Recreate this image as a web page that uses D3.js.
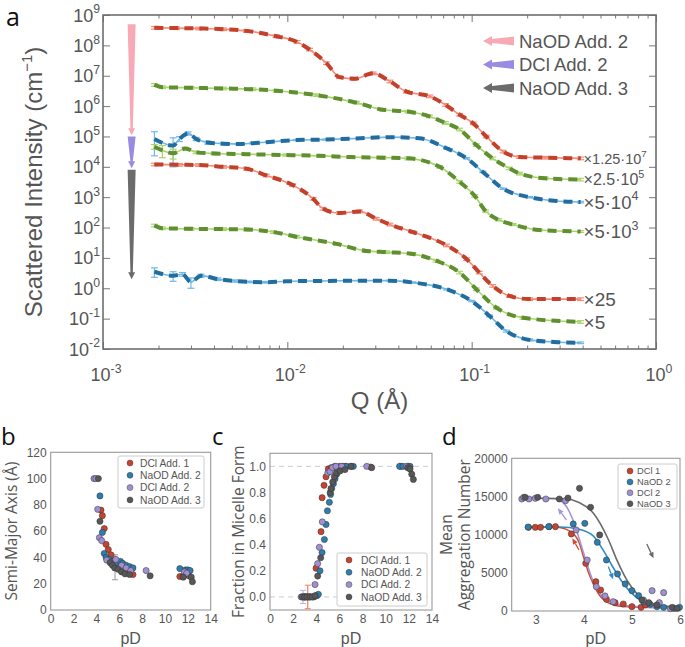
<!DOCTYPE html>
<html><head><meta charset="utf-8">
<script src="https://cdn.jsdelivr.net/npm/d3@7"></script>
<style>body{margin:0;background:#fff} svg{display:block}</style>
</head><body><svg id="c" width="685" height="647"></svg>
<script>
// ---------------- Panel a data (Q in 1/Å, intensity in cm^-1, already scaled) ----------------
const qR1 = [0.0019,0.0025,0.0033,0.0045,0.006,0.0087,0.0113,0.0132,0.0163,0.0192,0.0232,0.0292,0.036,0.0443,0.0593,0.072,0.086,0.102,0.12,0.148,0.182,0.25,0.39];
const iR1 = [3.8e8,3.7e8,3.6e8,3.4e8,3.0e8,2.0e8,1.3e8,7.3e7,2.6e7,9.0e6,8.0e6,1.2e7,6.5e6,3.0e6,2.1e6,1.1e6,5.2e5,2.7e5,1.0e5,3.2e4,2.1e4,2.0e4,1.9e4];
const qG2 = [0.0019,0.0021,0.003,0.0045,0.0065,0.0087,0.0144,0.0237,0.033,0.045,0.059,0.072,0.086,0.106,0.13,0.16,0.182,0.25,0.39];
const iG2 = [5.0e6,4.2e6,4.0e6,3.8e6,3.6e6,3.2e6,2.3e6,1.3e6,7.6e5,6.6e5,4.6e5,2.8e5,1.7e5,5.2e4,1.9e4,8.9e3,6.0e3,4.2e3,3.8e3];
const qB3 = [0.0019,0.0024,0.0026,0.0029,0.0032,0.0037,0.0045,0.0055,0.0065,0.008,0.0112,0.016,0.025,0.036,0.052,0.073,0.094,0.115,0.148,0.206,0.28,0.39];
const iB3 = [8.3e4,5.0e4,8.3e4,1.26e5,8.3e4,6.3e4,5.8e4,5.6e4,6.0e4,6.6e4,7.6e4,7.9e4,8.7e4,9.5e4,8.7e4,4.1e4,1.9e4,6.8e3,1.9e3,1.0e3,7.6e2,6.9e2];
const eB3 = [6e4,4e4,1.5e4,1.5e4,1e4,7e3,5e3,4e3,3e3,3e3,3e3,3e3,3e3,3e3,3e3,2e3,1e3,4e2,1e2,5e1,4e1,4e1];
const qG4 = [0.0019,0.0021,0.0024,0.0028,0.0032,0.004,0.006,0.0098,0.015,0.022,0.033,0.045,0.067,0.086,0.104,0.119,0.14,0.168,0.233,0.39];
const iG4 = [4.6e4,3.5e4,2.8e4,4.0e4,3.0e4,2.75e4,2.6e4,2.45e4,2.3e4,2.1e4,2.0e4,1.9e4,1.0e4,3.2e3,1.1e3,3.5e2,1.8e2,1.26e2,8.3e1,7.4e1];
const eG4 = [8e3,1.5e4,1e4,4e3,3e3,2.5e3,2e3,2e3,2e3,2e3,2e3,2e3,1e3,3e2,1e2,3e1,1.5e1,1e1,6,5];
const qR5 = [0.0019,0.0026,0.0033,0.0045,0.006,0.0077,0.0107,0.0138,0.0156,0.0192,0.0246,0.0304,0.036,0.048,0.073,0.094,0.11,0.13,0.16,0.206,0.39];
const iR5 = [1.2e4,1.17e4,1.15e4,1.0e4,8.7e3,5.2e3,2.5e3,8.9e2,4.2e2,3.0e2,3.4e2,1.95e2,1.26e2,7.1e1,2.6e1,9.1,3.3,1.2,0.56,0.44,0.44];
const qG6 = [0.0019,0.0021,0.003,0.0045,0.006,0.0084,0.0112,0.0185,0.0268,0.0346,0.048,0.064,0.086,0.106,0.136,0.19,0.39];
const iG6 = [117,95,91,89,87,71,50,29,17,15.5,13.5,8.1,3.3,0.93,0.23,0.107,0.078];
const qB7 = [0.0019,0.0024,0.0027,0.003,0.0034,0.0042,0.0052,0.0062,0.0075,0.0099,0.015,0.025,0.036,0.048,0.073,0.1,0.125,0.154,0.206,0.28,0.39];
const iB7 = [3.5,2.6,2.9,1.6,2.6,2.0,1.74,1.62,1.58,1.7,1.74,1.78,1.78,1.55,0.93,0.38,0.123,0.039,0.020,0.017,0.016];
const eB7 = [1.2,0.9,0.4,0.6,0.3,0.2,0.15,0.1,0.1,0.08,0.08,0.08,0.08,0.07,0.05,0.02,0.008,0.003,0.0015,0.0012,0.001];
const scaleBase = ["×1.25·10","×2.5·10","×5·10","×5·10","×25","×5",""];
const scaleExp  = ["7","5","4","3","","",""];
const legendA = ["NaOD Add. 2","DCl Add. 2","NaOD Add. 3"];
const arrowA = [[5e8,1.1e5],[1.0e5,9e3],[8e3,2.0]];   // vertical arrow segments (intensity range)

// ---------------- Panel b data: semi-major axis vs pD ----------------
const bRed    = [[4.4,76],[4.52,71.8],[4.69,62],[4.84,50],[5.04,46],[5.28,42],[5.6,38],[5.9,36],[6.3,34],[6.7,30],[7.2,27],[11.3,25.5],[11.6,26],[11.9,27],[12.1,26]];
const bBlue   = [[4.31,86.8],[4.52,59],[4.68,43],[4.85,40],[5.1,38.5],[5.4,37],[5.7,36],[6.1,37],[6.3,35.5],[6.6,34],[6.9,33],[7.2,32],[11.3,31.5],[11.8,30.5],[12.0,30.5],[12.2,30]];
const bPurple = [[3.79,100],[3.95,100],[4.11,76.6],[4.26,55],[4.46,52.8],[4.9,38],[5.3,36],[5.7,38.5],[6.2,34],[6.6,32],[7.0,30],[8.35,30],[11.7,29],[11.9,28]];
const bGray   = [[4.17,100],[4.31,67.5],[5.2,36],[5.4,34],[5.6,32],[5.9,31],[6.2,29],[6.5,27.5],[6.9,27],[8.7,26],[11.6,25],[12.3,25],[12.4,21.5]];
const bErr    = [[5.63,23,42]];

// ---------------- Panel c data: fraction in micelle form vs pD ----------------
const cRed    = [[2.95,0],[3.1,0],[3.3,0],[3.5,0],[3.7,0],[3.98,0.22],[4.41,0.50],[4.5,0.76],[4.67,0.855],[4.84,0.92],[5.04,0.98],[5.3,0.99],[5.6,1.0],[6.0,1.0],[6.5,1.0],[7.0,1.0],[8.7,0.995],[11.3,1.0],[11.9,1.0]];
const cBlue   = [[3.0,0],[3.4,0],[3.8,0],[4.05,0.01],[4.18,0.02],[4.32,0.2],[4.5,0.34],[4.7,0.44],[4.84,0.555],[4.96,0.66],[5.13,0.725],[5.24,0.785],[5.33,0.83],[5.48,0.867],[5.62,0.905],[5.76,0.94],[6.05,0.98],[6.3,1.0],[6.63,1.0],[7.2,1.0],[11.2,1.0],[11.5,1.0],[11.96,1.0],[12.1,1.0]];
const cPurple = [[2.7,0],[2.85,0],[3.0,0],[3.2,0],[3.89,0.095],[4.12,0.255],[4.27,0.38],[4.52,0.575],[5.0,0.95],[5.19,0.96],[5.4,0.99],[5.7,1.0],[6.2,1.0],[8.36,1.0],[11.8,1.0],[12.0,0.99]];
const cGray   = [[2.8,0],[3.0,0],[3.2,0],[3.45,0],[3.65,0],[3.9,0.01],[4.12,0.16],[4.38,0.3],[5.2,0.8],[5.27,0.83],[5.42,0.88],[5.56,0.92],[5.75,0.95],[6.05,0.965],[6.48,0.975],[7.0,1.0],[8.79,0.99],[11.9,0.99],[12.1,0.98],[12.25,0.94],[12.39,0.9]];
const cErr    = [[3.26,-0.09,0.09,"red"],[2.85,-0.05,0.05,"purple"]];

// ---------------- Panel d data: mean aggregation number vs pD ----------------
const dRed    = [[2.85,10960],[2.99,10960],[3.1,10960],[3.28,11050],[3.41,11050],[3.74,10090],[4.04,6240],[4.25,3840],[4.35,2750],[4.47,1530],[4.65,1090],[4.82,920],[5.0,570],[5.19,480],[5.28,790]];
const dBlue   = [[2.84,11000],[3.27,11050],[3.78,11400],[4.02,11480],[4.28,9000],[4.47,6680],[4.7,4850],[4.86,3540],[5.0,2660],[5.14,2010],[5.24,1220],[5.38,870],[5.52,570],[5.66,480],[5.87,350],[5.99,480]];
const dPurple = [[2.71,14670],[2.75,14890],[2.86,14670],[2.99,14760],[3.21,14670],[3.62,14450],[3.84,10610],[4.07,6680],[4.26,3190],[4.44,1970],[4.61,1220],[5.24,1440],[5.42,2660],[5.57,1090],[5.66,2400],[5.8,300]];
const dGray   = [[2.78,14890],[3.04,14890],[3.49,14670],[3.67,14800],[3.91,16070],[4.14,13580],[4.33,9960],[5.21,1440],[5.35,1090],[5.52,790],[5.84,480],[5.94,350]];
const fitRed    = [[2.8,11000],[3.4,11000],[3.7,10500],[3.9,9000],[4.0,7000],[4.1,5000],[4.2,3500],[4.3,2300],[4.5,1100],[4.8,600],[5.5,450],[6,400]];
const fitPurple = [[2.7,14800],[3.4,14700],[3.6,14000],[3.8,11500],[3.95,8500],[4.05,6500],[4.2,3800],[4.35,2200],[4.6,1100],[5,600],[6,400]];
const fitBlue   = [[2.8,11000],[3.5,11000],[3.9,10700],[4.2,9800],[4.4,8000],[4.6,5800],[4.8,3800],[5.0,2300],[5.2,1300],[5.5,700],[6,450]];
const fitGray   = [[2.7,14800],[3.6,14700],[3.9,14200],[4.2,12800],[4.5,9500],[4.7,6500],[4.9,4000],[5.1,2300],[5.3,1300],[5.6,700],[6,450]];
const dArrows = [[3.90,7990,3.76,9520,"red"],[3.64,11920,3.46,13450,"purple"],[4.51,5810,4.61,4150,"blue"],[5.31,8780,5.45,6900,"gray"]];
const legB = ["DCl  Add. 1","NaOD Add. 2","DCl  Add. 2","NaOD Add. 3"];
const legD = ["DCl 1","NaOD 2","DCl 2","NaOD 3"];

// ---------------- styles ----------------
const COL = {red:"#c8432f", blue:"#2e7dad", purple:"#a090d2", gray:"#575757"};
const FIT = {red:"#d04a30", blue:"#2f8bc4", purple:"#a596d6", gray:"#6a6a6a"};
const A_FIT = {red:"#c3402b", green:"#5f8f2f", blue:"#216d9f"};
const A_DAT = {red:"#f28c79", green:"#a8d46c", blue:"#70b7e3"};
const TXT = "#555";
const FA = "Liberation Sans, Arial, sans-serif";
const FB = "Open Sans, sans-serif";

const svg = d3.select("#c");

// ================= PANEL A =================
const A = {l:103, r:656, t:15, b:349};
const xA = d3.scaleLog().domain([1e-3, 1]).range([A.l, A.r]);
const yA = d3.scaleLog().domain([1e-2, 1e9]).range([A.b, A.t]);
const ga = svg.append("g");
const isMajor = v => Math.abs(Math.log10(v) - Math.round(Math.log10(v))) < 1e-9;
const xT = xA.ticks(), yT = yA.ticks();
function ax(g, axis, vals, size) {
  g.call(axis.tickValues(vals).tickSize(size).tickFormat(""));
  g.select(".domain").remove();
  g.selectAll("line").attr("stroke", "#777").attr("stroke-width", 1);
}
[[d3.axisBottom, `translate(0,${A.b})`, xA, xT], [d3.axisTop, `translate(0,${A.t})`, xA, xT],
 [d3.axisLeft, `translate(${A.l},0)`, yA, yT], [d3.axisRight, `translate(${A.r},0)`, yA, yT]].forEach(([fn, tr, sc, tv]) => {
  ax(ga.append("g").attr("transform", tr), fn(sc), tv.filter(v => !isMajor(v)), -3.5);
  ax(ga.append("g").attr("transform", tr), fn(sc), tv.filter(isMajor), -7);
});
ga.append("rect").attr("x", A.l).attr("y", A.t).attr("width", A.r - A.l).attr("height", A.b - A.t)
  .attr("fill", "none").attr("stroke", "#6e6e6e").attr("stroke-width", 1.6);
function sup(sel, base, exp, fs) {
  sel.append("tspan").text(base);
  if (exp !== "") sel.append("tspan").attr("dy", -fs * 0.45).attr("font-size", fs * 0.68).text(exp);
}
xT.filter(isMajor).forEach(v => {
  const t = ga.append("text").attr("x", xA(v) + 3).attr("y", A.b + 32).attr("text-anchor", "middle")
    .attr("font-family", FA).attr("font-size", 18).attr("fill", TXT);
  sup(t, "10", String(Math.round(Math.log10(v))), 18);
});
yT.filter(isMajor).forEach(v => {
  const t = ga.append("text").attr("x", A.l - 3).attr("y", yA(v) + 6.5).attr("text-anchor", "end")
    .attr("font-family", FA).attr("font-size", 18).attr("fill", TXT);
  sup(t, "10", String(Math.round(Math.log10(v))), 18);
});
{
  const t = ga.append("text").attr("transform", `translate(42,${(A.t + A.b) / 2}) rotate(-90)`)
    .attr("text-anchor", "middle").attr("font-family", FA).attr("font-size", 24).attr("fill", TXT);
  t.append("tspan").text("Scattered Intensity (cm");
  t.append("tspan").attr("dy", -10).attr("font-size", 15).text("−1");
  t.append("tspan").attr("dy", 10).text(")");
}
ga.append("text").attr("x", (A.l + A.r) / 2).attr("y", 409).attr("text-anchor", "middle")
  .attr("font-family", FA).attr("font-size", 24).attr("fill", TXT).text("Q (Å)");
ga.append("text").attr("x", 6).attr("y", 26).attr("font-family", FB).attr("font-size", 25).attr("fill", "#111").text("a");

const seriesA = [
  {q:qR1, v:iR1, e:null, c:"red"}, {q:qG2, v:iG2, e:null, c:"green"}, {q:qB3, v:iB3, e:eB3, c:"blue"},
  {q:qG4, v:iG4, e:eG4, c:"green"}, {q:qR5, v:iR5, e:null, c:"red"}, {q:qG6, v:iG6, e:null, c:"green"},
  {q:qB7, v:iB7, e:eB7, c:"blue"}
];
const labelSize = [14.5, 16, 18.5, 18.5, 19, 19, 0];
const lineA = d3.line().x(d => xA(d[0])).y(d => yA(d[1])).curve(d3.curveMonotoneX);
seriesA.forEach((s, k) => {
  const pts = s.q.map((q, i) => [q, s.v[i], s.e ? s.e[i] : s.v[i] * 0.1]);
  const g = ga.append("g");
  g.append("path").attr("d", lineA(pts)).attr("fill", "none").attr("stroke", A_DAT[s.c]).attr("stroke-width", 1.6);
  pts.forEach(p => {
    const y1 = yA(p[1] + p[2]), y2 = yA(Math.max(p[1] - p[2], 1.2e-2)), x = xA(p[0]);
    g.append("line").attr("x1", x).attr("x2", x).attr("y1", y1).attr("y2", y2).attr("stroke", A_DAT[s.c]).attr("stroke-width", 1.2);
    [y1, y2].forEach(yy => g.append("line").attr("x1", x - 3.5).attr("x2", x + 3.5).attr("y1", yy).attr("y2", yy)
      .attr("stroke", A_DAT[s.c]).attr("stroke-width", 1.2));
  });
  g.append("path").attr("d", lineA(pts)).attr("fill", "none").attr("stroke", A_FIT[s.c]).attr("stroke-width", 4)
    .attr("stroke-dasharray", "9,6");
  const last = pts[pts.length - 1];
  if (scaleBase[k]) {
    const fs = labelSize[k];
    const t = ga.append("text").attr("x", xA(last[0]) + 3).attr("y", yA(last[1]) + fs * 0.36)
      .attr("font-family", FA).attr("font-size", fs).attr("fill", TXT);
    sup(t, scaleBase[k], scaleExp[k], fs);
  }
});
// vertical arrow
const arrCols = ["#f7aab5", "#9a8be0", "#6b6b6b"];
const ax0 = xA(0.00143);
arrowA.forEach((seg, i) => {
  const yTop = yA(seg[0]), yBot = yA(seg[1]);
  const hw = 4, hl = 7;
  ga.append("path").attr("d",
    `M${ax0 - hw},${yTop} L${ax0 + hw},${yTop} L${ax0 + 1.2},${yBot - hl} L${ax0 + 3.5},${yBot - hl} L${ax0},${yBot} L${ax0 - 3.5},${yBot - hl} L${ax0 - 1.2},${yBot - hl} Z`)
    .attr("fill", arrCols[i]);
});
// legend arrows
legendA.forEach((t, i) => {
  const y = 41 + i * 23.5, x0 = 483, x1 = 514;
  ga.append("path").attr("d", `M${x0},${y} L${x0 + 9},${y - 5} L${x0 + 9},${y - 2} L${x1},${y - 4.5} L${x1},${y + 4.5} L${x0 + 9},${y + 2} L${x0 + 9},${y + 5} Z`)
    .attr("fill", arrCols[i]);
  ga.append("text").attr("x", 519).attr("y", y + 6.5).attr("font-family", FA).attr("font-size", 18.5).attr("fill", TXT).text(t);
});

// ================= PANELS b, c, d =================
function panel(cfg) {
  const g = svg.append("g");
  const x = d3.scaleLinear().domain(cfg.xd).range([cfg.l, cfg.r]);
  const y = d3.scaleLinear().domain(cfg.yd).range([cfg.b, cfg.t]);
  const gx = g.append("g").attr("transform", `translate(0,${cfg.b})`)
    .call(d3.axisBottom(x).tickValues(cfg.xt).tickSize(0).tickPadding(4).tickFormat(cfg.xf || d3.format("d")));
  const gy = g.append("g").attr("transform", `translate(${cfg.l},0)`)
    .call(d3.axisLeft(y).tickValues(cfg.yt).tickSize(0).tickPadding(4).tickFormat(cfg.yf || d3.format("d")));
  [gx, gy].forEach(s => { s.select(".domain").remove(); s.selectAll("text").attr("font-family", FA).attr("font-size", 12).attr("fill", TXT); });
  if (cfg.hl) cfg.hl.forEach(v => g.append("line").attr("x1", cfg.l).attr("x2", cfg.r).attr("y1", y(v)).attr("y2", y(v))
    .attr("stroke", "#ccc").attr("stroke-width", 1).attr("stroke-dasharray", "5,4"));
  g.append("rect").attr("x", cfg.l).attr("y", cfg.t).attr("width", cfg.r - cfg.l).attr("height", cfg.b - cfg.t)
    .attr("fill", "none").attr("stroke", "#999").attr("stroke-width", 1.1);
  g.append("text").attr("x", (cfg.l + cfg.r) / 2).attr("y", 643.5).attr("text-anchor", "middle")
    .attr("font-family", FA).attr("font-size", 16).attr("fill", TXT).text("pD");
  cfg.ylab.forEach((lab, i) => g.append("text").attr("transform", `translate(${cfg.ylx[i]},${(cfg.t + cfg.b) / 2}) rotate(-90)`)
    .attr("text-anchor", "middle").attr("font-family", FB).attr("font-size", 15.5).attr("fill", TXT).text(lab));
  g.append("text").attr("x", cfg.px).attr("y", 445).attr("font-family", FB).attr("font-size", 24).attr("fill", "#111").text(cfg.pl);
  return {g, x, y};
}
function dots(P, data, col) {
  P.g.append("g").selectAll("circle").data(data).join("circle")
    .attr("cx", d => P.x(d[0])).attr("cy", d => P.y(d[1])).attr("r", 3.1)
    .attr("fill", COL[col]).attr("stroke", "#333").attr("stroke-width", 0.5);
}
function legend(P, x0, y0, w, h, dy, labels, fs, tx) {
  P.g.append("rect").attr("x", x0).attr("y", y0).attr("width", w).attr("height", h).attr("rx", 2)
    .attr("fill", "#fff").attr("fill-opacity", 0.9).attr("stroke", "#ccc").attr("stroke-width", 1);
  ["red", "blue", "purple", "gray"].forEach((c, i) => {
    const yy = y0 + 7 + i * dy;
    P.g.append("circle").attr("cx", x0 + 12).attr("cy", yy).attr("r", 3).attr("fill", COL[c]).attr("stroke", "#333").attr("stroke-width", 0.4);
    P.g.append("text").attr("x", x0 + tx).attr("y", yy + fs * 0.36).attr("font-family", FA).attr("font-size", fs).attr("fill", TXT).text(labels[i]);
  });
}

// panel b
const PB = panel({l:50.7, r:210.7, t:452.3, b:610, xd:[0,14], yd:[0,120], xt:d3.range(0,15,2), yt:d3.range(0,121,20),
  ylab:["Semi-Major Axis (Å)"], ylx:[17], px:1, pl:"b"});
bErr.forEach(e => {
  const x = PB.x(e[0]);
  PB.g.append("line").attr("x1", x).attr("x2", x).attr("y1", PB.y(e[1])).attr("y2", PB.y(e[2])).attr("stroke", "#999").attr("stroke-width", 1);
  [e[1], e[2]].forEach(v => PB.g.append("line").attr("x1", x - 3).attr("x2", x + 3).attr("y1", PB.y(v)).attr("y2", PB.y(v)).attr("stroke", "#999"));
});
dots(PB, bRed, "red"); dots(PB, bBlue, "blue"); dots(PB, bPurple, "purple"); dots(PB, bGray, "gray");
legend(PB, 118, 456, 86, 52, 12.3, legB, 10.3, 22);

// panel c
const PC = panel({l:270, r:432, t:453.3, b:610, xd:[0,14], yd:[-0.1,1.1], xt:d3.range(0,15,2), yt:[0,0.2,0.4,0.6,0.8,1.0],
  yf:d3.format(".1f"), hl:[0,1], ylab:["Fraction in Micelle Form"], ylx:[244], px:212, pl:"c"});
cErr.forEach(e => {
  const x = PC.x(e[0]), col = e[3] === "red" ? "#e8806a" : "#c0b4e4";
  PC.g.append("line").attr("x1", x).attr("x2", x).attr("y1", PC.y(e[1])).attr("y2", PC.y(e[2])).attr("stroke", col).attr("stroke-width", 1.2);
  [e[1], e[2]].forEach(v => PC.g.append("line").attr("x1", x - 3).attr("x2", x + 3).attr("y1", PC.y(v)).attr("y2", PC.y(v)).attr("stroke", col));
});
dots(PC, cRed, "red"); dots(PC, cBlue, "blue"); dots(PC, cPurple, "purple"); dots(PC, cGray, "gray");
legend(PC, 337, 553, 90, 53, 12.3, legB, 10.3, 24);

// panel d
const PD = panel({l:511.7, r:680, t:458.3, b:611, xd:[2.5,6], yd:[0,20000], xt:[3,4,5,6], yt:[0,5000,10000,15000,20000],
  ylab:["Mean", "Aggregation Number"], ylx:[452, 470], px:442, pl:"d"});
const lineD = d3.line().x(d => PD.x(d[0])).y(d => PD.y(d[1])).curve(d3.curveMonotoneX);
[[fitRed, "red"], [fitBlue, "blue"], [fitPurple, "purple"], [fitGray, "gray"]].forEach(([f, c]) =>
  PD.g.append("path").attr("d", lineD(f)).attr("fill", "none").attr("stroke", FIT[c]).attr("stroke-width", 1.6));
dots(PD, dRed, "red"); dots(PD, dBlue, "blue"); dots(PD, dPurple, "purple"); dots(PD, dGray, "gray");
dArrows.forEach(a => {
  const x1 = PD.x(a[0]), y1 = PD.y(a[1]), x2 = PD.x(a[2]), y2 = PD.y(a[3]);
  const ang = Math.atan2(y2 - y1, x2 - x1), L = 6, W = 2.6;
  const bx = x2 - L * Math.cos(ang), by = y2 - L * Math.sin(ang);
  PD.g.append("line").attr("x1", x1).attr("y1", y1).attr("x2", bx).attr("y2", by).attr("stroke", FIT[a[4]]).attr("stroke-width", 1.3);
  PD.g.append("path").attr("d", `M${x2},${y2} L${bx - W * Math.sin(ang)},${by + W * Math.cos(ang)} L${bx + W * Math.sin(ang)},${by - W * Math.cos(ang)} Z`)
    .attr("fill", FIT[a[4]]);
});
legend(PD, 618, 464, 59, 45, 10.9, legD, 9.3, 19);
</script></body></html>
